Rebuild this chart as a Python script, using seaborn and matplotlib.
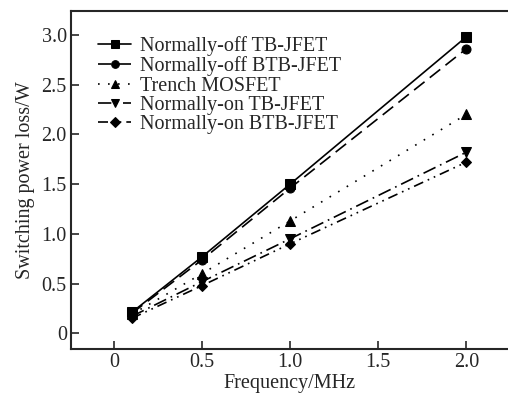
import pandas as pd
import matplotlib.pyplot as plt
import seaborn as sns

freq = [0.1, 0.5, 1.0, 2.0]
off_tb = [0.21, 0.77, 1.50, 2.98]
off_btb = [0.20, 0.74, 1.46, 2.86]
trench = [0.19, 0.60, 1.13, 2.20]
on_tb = [0.17, 0.52, 0.95, 1.82]
on_btb = [0.15, 0.48, 0.90, 1.72]

names = ['Normally-off TB-JFET', 'Normally-off BTB-JFET', 'Trench MOSFET',
         'Normally-on TB-JFET', 'Normally-on BTB-JFET']
series = [off_tb, off_btb, trench, on_tb, on_btb]
markers = ['s', 'o', '^', 'v', 'D']
dashes = [None, (8, 4), (1, 5), (8, 3, 1, 3), (6, 3, 1, 3, 1, 3)]

sns.set_style('ticks')
plt.rcParams['font.family'] = ['Liberation Serif', 'DejaVu Serif']

fig = plt.figure(figsize=(5.08, 3.96), dpi=100)
ax = fig.add_axes([71 / 508, 1 - 349 / 396, (508 - 71) / 508, (349 - 11) / 396])

for name, vals, m, d in zip(names, series, markers, dashes):
    df = pd.DataFrame({'f': freq, 'p': vals})
    sns.lineplot(data=df, x='f', y='p', ax=ax, color='black', marker=m,
                 markersize=6.5 if m != 'D' else 5.5, markeredgecolor='black',
                 linewidth=1.2, label=name)
    l = ax.get_lines()[-1]
    if d is None:
        l.set_linestyle('-')
    else:
        l.set_dashes(d)

ax.set_xlim(-0.245, 2.237)
ax.set_ylim(-0.158, 3.24)
ax.set_xticks([0, 0.5, 1.0, 1.5, 2.0])
ax.set_xticklabels(['0', '0.5', '1.0', '1.5', '2.0'])
ax.set_yticks([0, 0.5, 1.0, 1.5, 2.0, 2.5, 3.0])
ax.set_yticklabels(['0', '0.5', '1.0', '1.5', '2.0', '2.5', '3.0'])
ax.tick_params(direction='in', length=6, width=1.2, labelsize=14.5, pad=3)
for s in ax.spines.values():
    s.set_linewidth(1.5)
ax.spines['right'].set_visible(False)
ax.set_xlabel('Frequency/MHz', fontsize=14.5, labelpad=1)
ax.set_ylabel('Switching power loss/W', fontsize=14.5, labelpad=5)

leg = ax.legend(loc='upper left', bbox_to_anchor=(0.062, 0.925), frameon=False,
                fontsize=14.5, handlelength=1.65, handletextpad=0.45,
                labelspacing=0.01, borderaxespad=0, borderpad=0,
                markerscale=0.85)

fig.savefig('out.png', dpi=100)
